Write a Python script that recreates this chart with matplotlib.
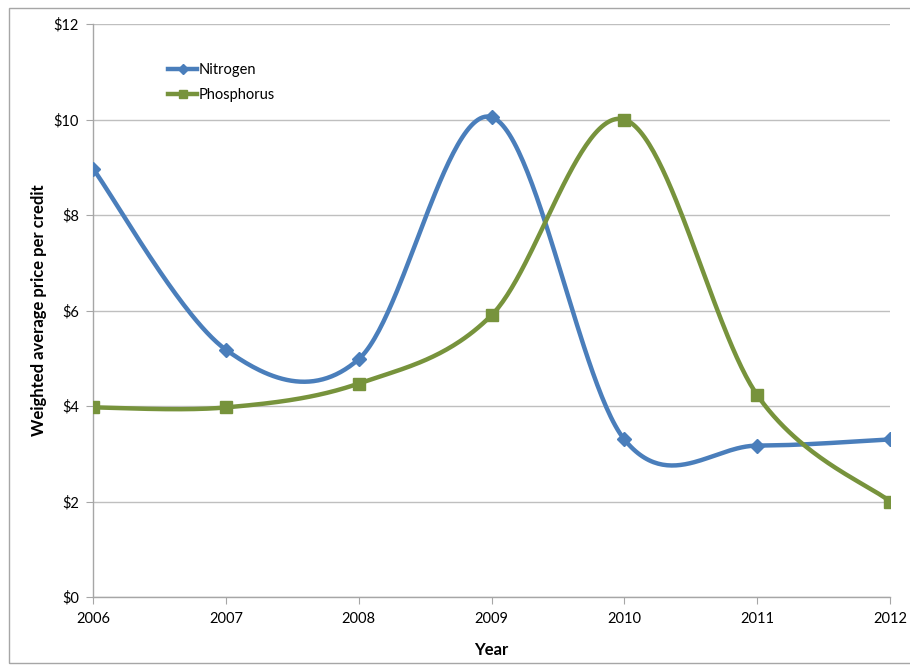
#!/usr/bin/env python3
import numpy as np
import matplotlib
matplotlib.use('Agg')
import matplotlib.pyplot as plt
from matplotlib.patches import Rectangle
from matplotlib.ticker import FuncFormatter

plt.rcParams['font.family'] = ['Lato', 'DejaVu Sans']

years = [2006, 2007, 2008, 2009, 2010, 2011, 2012]
nitrogen = [8.97, 5.18, 4.98, 10.05, 3.30, 3.17, 3.30]
phosphorus = [3.97, 3.97, 4.47, 5.90, 10.00, 4.23, 2.00]

BLUE = '#4A7EBB'
GREEN = '#77933C'
GRID = '#BFBFBF'


def smooth(x, y, n=60):
    # Catmull-Rom style bezier smoothing, like spreadsheet "smoothed line"
    x = np.asarray(x, float)
    y = np.asarray(y, float)
    px = np.concatenate([[x[0]], x, [x[-1]]])
    py = np.concatenate([[y[0]], y, [y[-1]]])
    xs, ys = [], []
    t = np.linspace(0, 1, n)
    for i in range(1, len(px) - 2):
        p0 = np.array([px[i - 1], py[i - 1]])
        p1 = np.array([px[i], py[i]])
        p2 = np.array([px[i + 1], py[i + 1]])
        p3 = np.array([px[i + 2], py[i + 2]])
        c1 = p1 + (p2 - p0) / 6
        c2 = p2 - (p3 - p1) / 6
        b = ((1 - t) ** 3)[:, None] * p1 + (3 * (1 - t) ** 2 * t)[:, None] * c1 \
            + (3 * (1 - t) * t ** 2)[:, None] * c2 + (t ** 3)[:, None] * p2
        xs.extend(b[:, 0])
        ys.extend(b[:, 1])
    return np.array(xs), np.array(ys)


fig = plt.figure(figsize=(9.10, 6.69), dpi=100)
fig.patches.append(Rectangle((9 / 910, 1 - 663 / 669), 1.2, (663 - 8) / 669,
                             transform=fig.transFigure, fill=False,
                             edgecolor='#A6A6A6', linewidth=1.0))

ax = fig.add_axes([93 / 910, 1 - 597 / 669, (890 - 93) / 910, (597 - 24) / 669])

for vals, color, marker, ms, label in [
        (nitrogen, BLUE, 'D', 7, 'Nitrogen'),
        (phosphorus, GREEN, 's', 9, 'Phosphorus')]:
    sx, sy = smooth(years, vals)
    ax.plot(sx, sy, color=color, lw=3.2, solid_capstyle='round', zorder=3)
    ax.plot(years, vals, linestyle='none', marker=marker, ms=ms,
            color=color, zorder=4)
    ax.plot([], [], color=color, lw=3.2, marker=marker, ms=ms, label=label)

ax.set_xlim(2006, 2012)
ax.set_ylim(0, 12)
ax.set_xticks(years)
ax.set_yticks(range(0, 13, 2))
ax.yaxis.set_major_formatter(FuncFormatter(lambda v, p: f'${v:.0f}'))
ax.grid(axis='y', color=GRID, lw=1.0)
ax.set_axisbelow(True)

for s in ['top', 'right']:
    ax.spines[s].set_visible(False)
for s in ['left', 'bottom']:
    ax.spines[s].set_color('#A6A6A6')
    ax.spines[s].set_linewidth(1.0)
ax.tick_params(axis='both', colors='#A6A6A6', length=5, labelsize=10.5,
               labelcolor='black')
ax.tick_params(axis='y', pad=5)
ax.tick_params(axis='x', pad=6)

ax.set_xlabel('Year', fontsize=12, fontweight='bold', labelpad=11)
ax.set_ylabel('Weighted average price per credit', fontsize=12,
              fontweight='bold', labelpad=5)

handles, labels = ax.get_legend_handles_labels()
ax.legend(handles, labels, loc='upper left', bbox_to_anchor=(0.078, 0.955),
          frameon=False, fontsize=10.5, handlelength=2.0, handletextpad=0.1,
          labelspacing=0.75, markerscale=0.7)

fig.savefig('out.png', dpi=100)
